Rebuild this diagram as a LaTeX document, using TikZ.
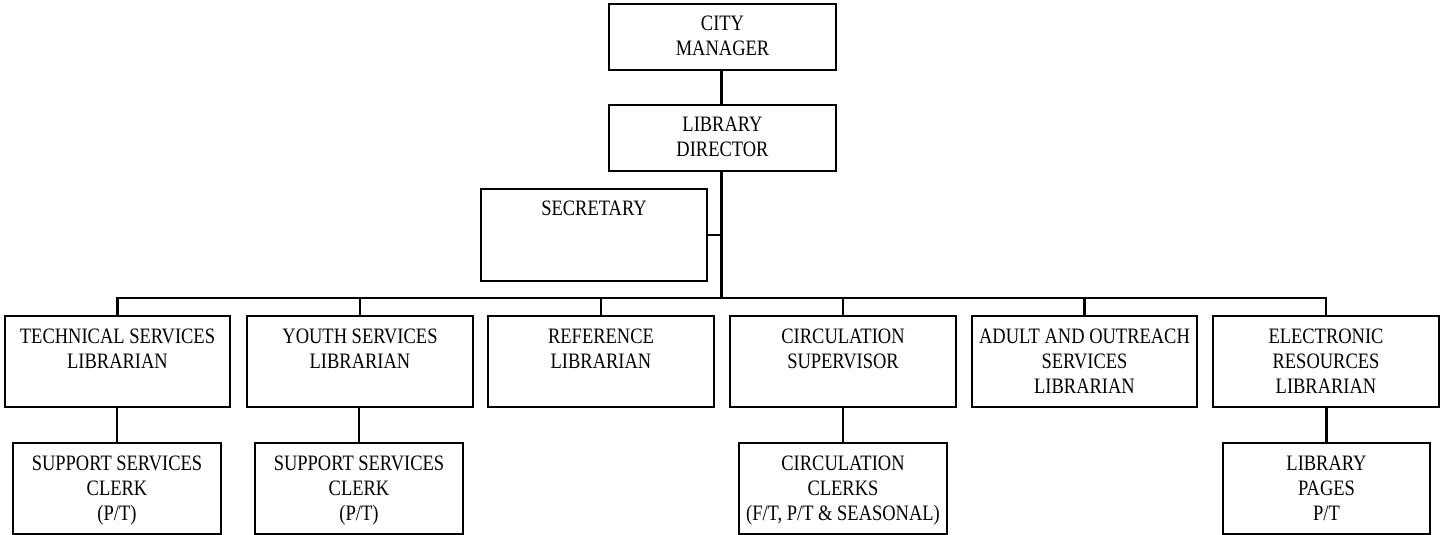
\documentclass[tikz,border=0pt]{standalone}
\usepackage{fontspec}
\setmainfont{Liberation Serif}[FakeStretch=0.84]
\begin{document}
\begin{tikzpicture}[x=1pt,y=-1pt,
  box/.style={draw=black, line width=1.3pt, inner sep=0pt, outer sep=0pt},
  conn/.style={draw=black, line width=2.8pt},
  lbl/.style={anchor=base, inner sep=0pt, font=\fontsize{22}{25.4}\selectfont}]
\useasboundingbox (0,0) rectangle (1440,535);
% boxes
\node[box, minimum width=227pt, minimum height=66pt] (cm) at (722.5,37) {};
\node[box, minimum width=227pt, minimum height=66pt] (dir) at (722.5,138) {};
\node[box, minimum width=226pt, minimum height=92pt] (sec) at (594,235) {};
\node[box, minimum width=225pt, minimum height=91pt] (tech) at (117.5,361.5) {};
\node[box, minimum width=226pt, minimum height=91pt] (youth) at (360,361.5) {};
\node[box, minimum width=226pt, minimum height=91pt] (ref) at (601,361.5) {};
\node[box, minimum width=226pt, minimum height=91pt] (circ) at (843,361.5) {};
\node[box, minimum width=225pt, minimum height=91pt] (adult) at (1084.5,361.5) {};
\node[box, minimum width=226pt, minimum height=91pt] (elec) at (1326,361.5) {};
\node[box, minimum width=208pt, minimum height=91pt] (clerk1) at (117,488.5) {};
\node[box, minimum width=208pt, minimum height=91pt] (clerk2) at (359,488.5) {};
\node[box, minimum width=208pt, minimum height=91pt] (cclerk) at (843,488.5) {};
\node[box, minimum width=207pt, minimum height=91pt] (pages) at (1326.5,488.5) {};
% labels
\node[lbl] (cmT) at ([yshift=-26.5pt]cm.north) {\begin{tabular}[t]{@{}c@{}}CITY\\MANAGER\end{tabular}};
\node[lbl] (dirT) at ([yshift=-26.5pt]dir.north) {\begin{tabular}[t]{@{}c@{}}LIBRARY\\DIRECTOR\end{tabular}};
\node[lbl] (secT) at ([yshift=-26.5pt]sec.north) {\begin{tabular}[t]{@{}c@{}}SECRETARY\end{tabular}};
\node[lbl] (techT) at ([yshift=-27pt]tech.north) {\begin{tabular}[t]{@{}c@{}}TECHNICAL SERVICES\\LIBRARIAN\end{tabular}};
\node[lbl] (youthT) at ([yshift=-27pt]youth.north) {\begin{tabular}[t]{@{}c@{}}YOUTH SERVICES\\LIBRARIAN\end{tabular}};
\node[lbl] (refT) at ([yshift=-27pt]ref.north) {\begin{tabular}[t]{@{}c@{}}REFERENCE\\LIBRARIAN\end{tabular}};
\node[lbl] (circT) at ([yshift=-27pt]circ.north) {\begin{tabular}[t]{@{}c@{}}CIRCULATION\\SUPERVISOR\end{tabular}};
\node[lbl] (adultT) at ([yshift=-27pt]adult.north) {\begin{tabular}[t]{@{}c@{}}ADULT AND OUTREACH\\SERVICES\\LIBRARIAN\end{tabular}};
\node[lbl] (elecT) at ([yshift=-27pt]elec.north) {\begin{tabular}[t]{@{}c@{}}ELECTRONIC\\RESOURCES\\LIBRARIAN\end{tabular}};
\node[lbl] (clerk1T) at ([yshift=-27pt]clerk1.north) {\begin{tabular}[t]{@{}c@{}}SUPPORT SERVICES\\CLERK\\(P/T)\end{tabular}};
\node[lbl] (clerk2T) at ([yshift=-27pt]clerk2.north) {\begin{tabular}[t]{@{}c@{}}SUPPORT SERVICES\\CLERK\\(P/T)\end{tabular}};
\node[lbl] (cclerkT) at ([yshift=-27pt]cclerk.north) {\begin{tabular}[t]{@{}c@{}}CIRCULATION\\CLERKS\\(F/T, P/T \& SEASONAL)\end{tabular}};
\node[lbl] (pagesT) at ([yshift=-27pt]pages.north) {\begin{tabular}[t]{@{}c@{}}LIBRARY\\PAGES\\P/T\end{tabular}};
% connectors
\coordinate (bus) at (721.7,298);
\draw[conn] (cm.south -| bus) -- (dir.north -| bus);
\draw[conn] (dir.south -| bus) -- (bus);
\draw[conn] (sec.east) -- (sec.east -| bus);
\draw[conn] (tech.north) |- (bus) -| (elec.north);
\draw[conn] (youth.north) -- (youth.north |- bus);
\draw[conn] (ref.north) -- (ref.north |- bus);
\draw[conn] (circ.north) -- (circ.north |- bus);
\draw[conn] (adult.north) -- (adult.north |- bus);
\draw[conn] (tech.south -| clerk1.north) -- (clerk1.north);
\draw[conn] (youth.south -| clerk2.north) -- (clerk2.north);
\draw[conn] (circ.south) -- (cclerk.north);
\draw[conn] (elec.south -| pages.north) -- (pages.north);
\end{tikzpicture}
\end{document}
